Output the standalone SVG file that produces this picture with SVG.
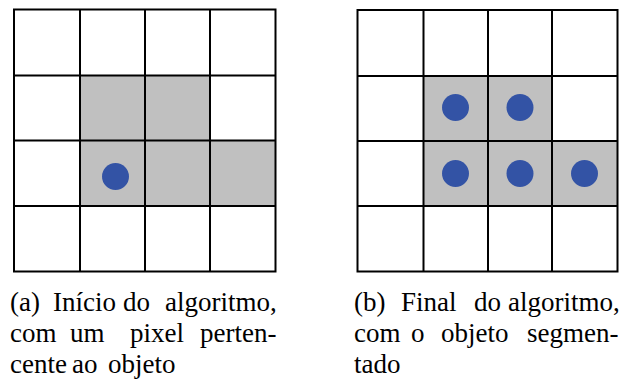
<svg xmlns="http://www.w3.org/2000/svg" width="622" height="383" viewBox="0 0 622 383">
<rect width="622" height="383" fill="#fff"/>
<g id="grid-a">
<rect x="80" y="75" width="130" height="65" fill="#c0c0c0"/>
<rect x="80" y="140" width="195" height="66" fill="#c0c0c0"/>
<path d="M14,9.5H275.5V271.5H14Z M80,9.5V271.5 M145,9.5V271.5 M210,9.5V271.5 M14,75.5H275.5 M14,140.5H275.5 M14,206H275.5" stroke="#000" stroke-width="2" fill="none"/>
<circle cx="115.5" cy="176.5" r="13.5" fill="#3353a5"/>
</g>
<g id="grid-b">
<rect x="424" y="76" width="128" height="65" fill="#c0c0c0"/>
<rect x="424" y="141" width="194" height="65" fill="#c0c0c0"/>
<path d="M357.5,10H617.5V271.5H357.5Z M423.5,10V271.5 M488,10V271.5 M552,10V271.5 M357.5,76H617.5 M357.5,141H617.5 M357.5,206H617.5" stroke="#000" stroke-width="2" fill="none"/>
<circle cx="455.5" cy="107.5" r="13.5" fill="#3353a5"/>
<circle cx="520" cy="107.5" r="13.5" fill="#3353a5"/>
<circle cx="455.5" cy="173.5" r="13.5" fill="#3353a5"/>
<circle cx="520" cy="173.5" r="13.5" fill="#3353a5"/>
<circle cx="584.5" cy="173.5" r="13.5" fill="#3353a5"/>
</g>
<g id="caption-a">
<text x="10" y="311" font-family="'Liberation Serif'" font-size="27">(a)</text>
<text x="53" y="311" font-family="'Liberation Serif'" font-size="27">Início</text>
<text x="123" y="311" font-family="'Liberation Serif'" font-size="27">do</text>
<text x="165" y="311" font-family="'Liberation Serif'" font-size="27">algoritmo,</text>
<text x="10" y="342" font-family="'Liberation Serif'" font-size="27">com</text>
<text x="70" y="342" font-family="'Liberation Serif'" font-size="27">um</text>
<text x="130" y="342" font-family="'Liberation Serif'" font-size="27">pixel</text>
<text x="200" y="342" font-family="'Liberation Serif'" font-size="27">perten-</text>
<text x="10" y="373" font-family="'Liberation Serif'" font-size="27">cente</text>
<text x="72" y="373" font-family="'Liberation Serif'" font-size="27">ao</text>
<text x="108" y="373" font-family="'Liberation Serif'" font-size="27">objeto</text>
</g>
<g id="caption-b">
<text x="354" y="311" font-family="'Liberation Serif'" font-size="27">(b)</text>
<text x="401" y="311" font-family="'Liberation Serif'" font-size="27">Final</text>
<text x="474" y="311" font-family="'Liberation Serif'" font-size="27">do</text>
<text x="508" y="311" font-family="'Liberation Serif'" font-size="27">algoritmo,</text>
<text x="354" y="342" font-family="'Liberation Serif'" font-size="27">com</text>
<text x="411" y="342" font-family="'Liberation Serif'" font-size="27">o</text>
<text x="441" y="342" font-family="'Liberation Serif'" font-size="27">objeto</text>
<text x="527" y="342" font-family="'Liberation Serif'" font-size="27">segmen-</text>
<text x="354" y="373" font-family="'Liberation Serif'" font-size="27">tado</text>
</g>
</svg>
